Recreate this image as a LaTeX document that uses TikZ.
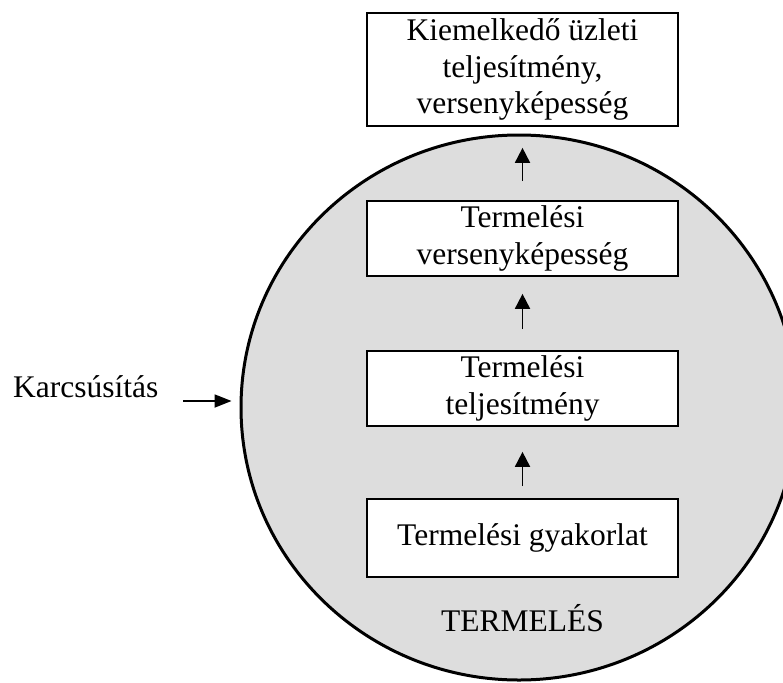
\documentclass[tikz,border=0pt]{standalone}
\usepackage{fontspec}
\setmainfont{Liberation Serif}
\usetikzlibrary{arrows.meta}
\usetikzlibrary{shapes.geometric}

\tikzset{
  txt/.style={font=\fontsize{31.5}{36.5}\selectfont, inner sep=0pt},
  level/.style={txt, draw, fill=white, line width=1.7pt, align=center,
    minimum width=311pt},
  uparr/.style={line width=1.8pt, -{Triangle[length=15pt,width=15pt]}}
}

\begin{document}
\begin{tikzpicture}[x=1pt,y=-1pt]
    \clip (0,0) rectangle (783,682);
    \fill[white] (0,0) rectangle (783,682);
    \node[ellipse, draw, fill={rgb,255:red,221;green,221;blue,221}, line width=3pt,
      minimum width=556pt, minimum height=545pt] (prod) at (519,407.5) {};
    \node[level, minimum height=113pt] (b1) at (522.5,69.5)
      {Kiemelkedő üzleti\\teljesítmény,\\versenyképesség};
    \node[level, minimum height=75pt] (b2) at (522.5,238.5)
      {Termelési\\versenyképesség};
    \node[level, minimum height=75pt] (b3) at (522.5,388.5)
      {Termelési\\teljesítmény};
    \node[level, minimum height=78pt] (b4) at (522.5,538)
      {Termelési gyakorlat};
    \node[txt, anchor=base] (prodlabel) at (522.5,631) {TERMELÉS};
    \node[txt, anchor=base west] (lean) at (13,397) {Karcsúsítás};
    \coordinate (leanarr) at (183,401);
    \foreach \from/\to/\s/\e in {b2/b1/19/21, b3/b2/21/17, b4/b3/12/25}
      \draw[uparr, shorten <=\s pt, shorten >=\e pt] (\from) -- (\to);
    \draw[uparr, -{Triangle[length=17pt,width=13pt]}] (leanarr) -- ([xshift=-8pt]prod.west |- leanarr);
  \end{tikzpicture}
\end{document}
